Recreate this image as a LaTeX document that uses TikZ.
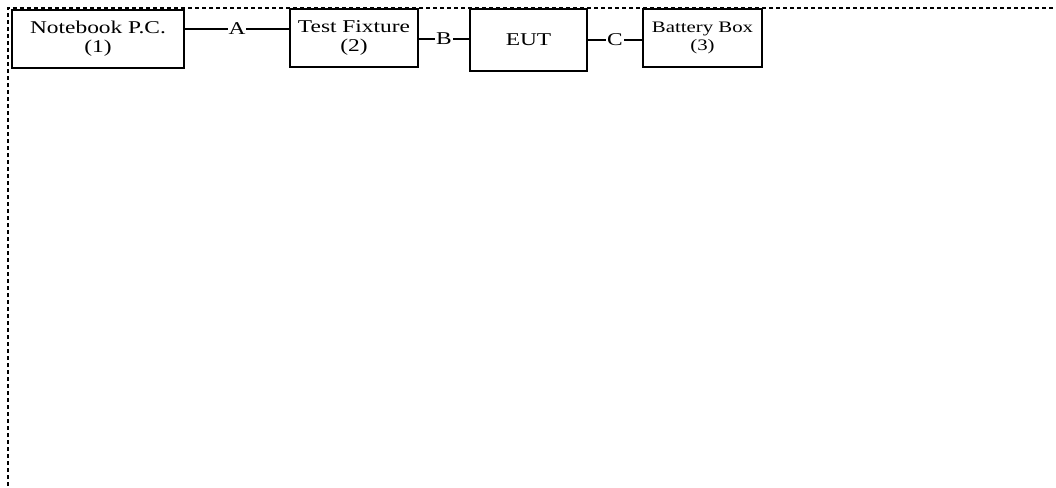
\documentclass[tikz,border=0pt]{standalone}
\usepackage{fontspec}
\setmainfont{Liberation Serif}[FakeStretch=1.3]
\begin{document}
\begin{tikzpicture}[x=1pt, y=-1pt, line width=1.2pt,
        box/.style = {shape=rectangle, draw, align=center, inner sep=0pt,
                        font=\fontsize{18}{19}\selectfont},
        lbl/.style = {fill=white, inner sep=1pt, font=\fontsize{18}{19}\selectfont}]
    \useasboundingbox (0,0) rectangle (1056,487);
    \draw[line width=1.2pt, dash pattern=on 4pt off 3pt] (8,500) -- (8,8) -- (1070,8);
    \node[box, minimum width=172, minimum height=58] (nb) at (98,39) {Notebook P.C.\\(1)};
    \node[box, minimum width=128, minimum height=58] (tf) at (354,38) {Test Fixture\\(2)};
    \node[box, minimum width=117, minimum height=62] (eut) at (528.5,40) {EUT};
    \node[box, minimum width=119, minimum height=58,
          font=\fontsize{16}{18}\selectfont] (bb) at (702.5,38) {Battery Box\\(3)};
    \draw ([yshift=10pt]nb.east) -- node[lbl] {A} ([yshift=9pt]tf.west);
    \draw ([yshift=-1pt]tf.east) -- node[lbl] {B} ([yshift=1pt]eut.west);
    \draw (eut.east) -- node[lbl] {C} ([yshift=-2pt]bb.west);
\end{tikzpicture}
\end{document}
